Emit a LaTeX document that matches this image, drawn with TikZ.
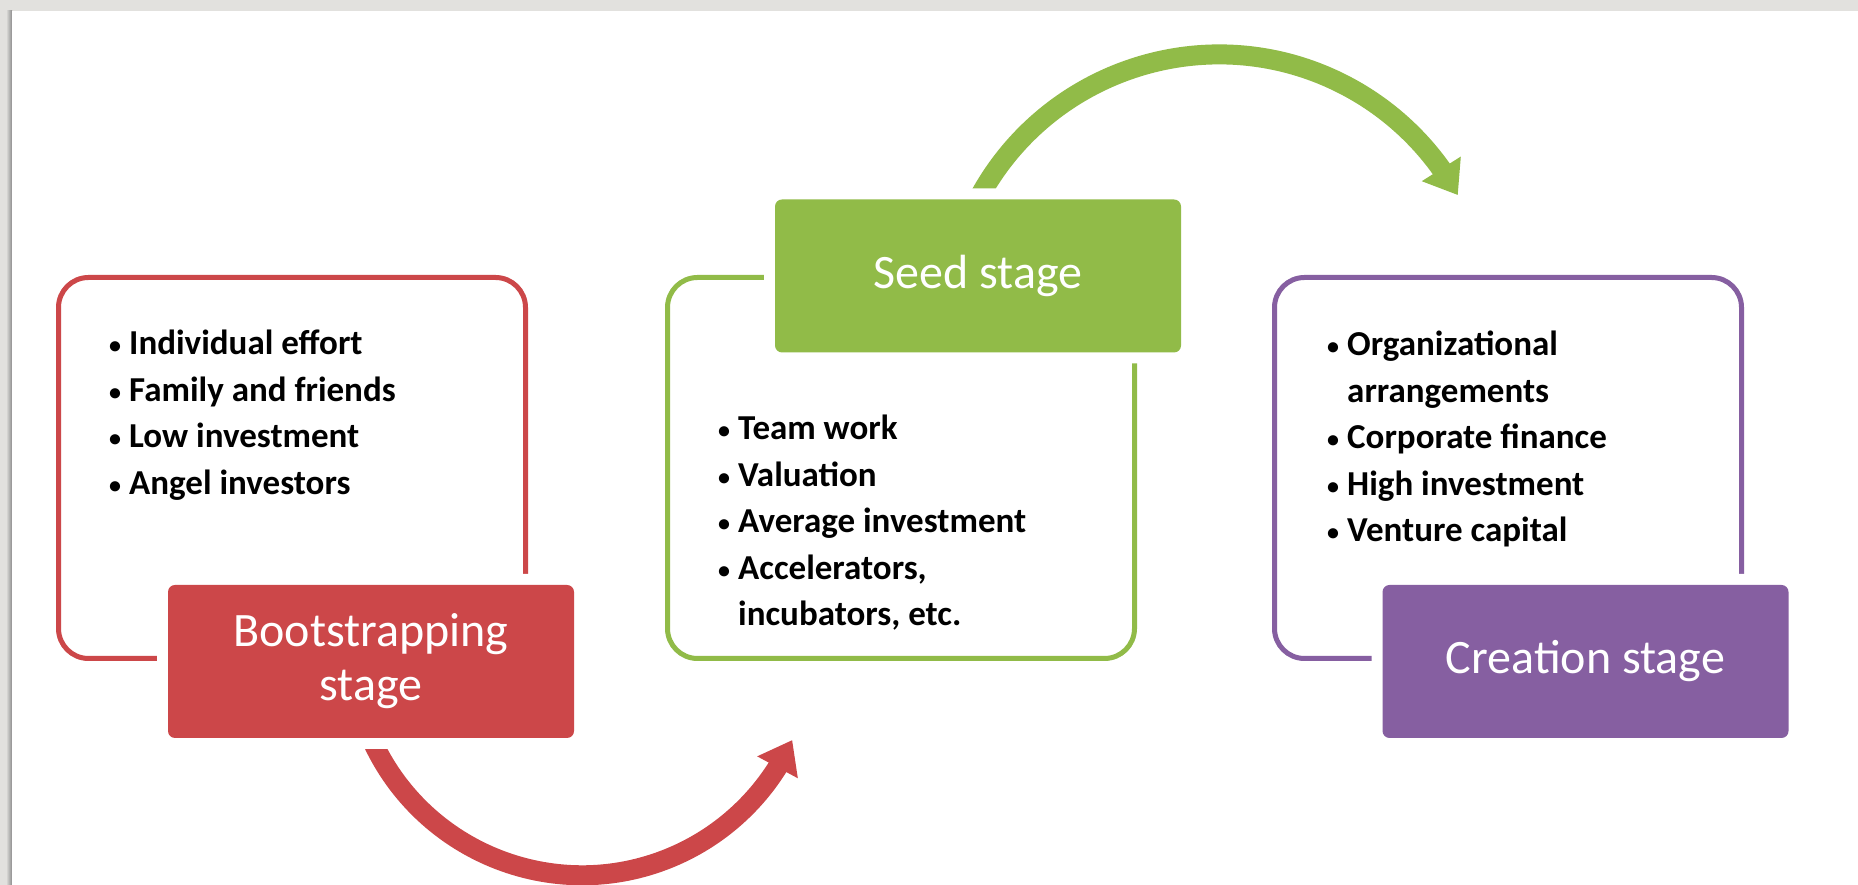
\documentclass[tikz,border=0pt]{standalone}
\usepackage{fontspec}
\setmainfont{Carlito}
\usetikzlibrary{arrows.meta,bending,backgrounds}

\definecolor{bootred}{RGB}{204,71,73}
\definecolor{seedgreen}{RGB}{145,187,72}
\definecolor{createpurple}{RGB}{134,95,161}
\definecolor{cardgray}{RGB}{226,225,222}

\newcommand{\bul}{\makebox[20pt][l]{\raisebox{1pt}{\fontsize{24}{24}\selectfont\textbullet}}}
\newcommand{\hang}{\hspace*{20pt}}

\tikzset{
  listframe/.style={draw=#1, line width=5pt, rounded corners=30pt, minimum width=467pt, minimum height=381pt, inner sep=0pt},
  stagebox/.style={fill=#1, rounded corners=7pt, minimum width=406pt, minimum height=153pt, inner sep=0pt,
    preaction={draw=white, line width=22pt}, text=white, align=center, font=\fontsize{48}{54}\selectfont},
  itemlist/.style={anchor=north west, inner sep=0pt, align=left, font=\bfseries\fontsize{35}{46.5}\selectfont},
  stagearc/.style={draw=#1, line width=20pt, -{Triangle[length=31pt,width=44pt]}}
}

\begin{document}
\begin{tikzpicture}[x=1pt,y=1pt]

% Card
\begin{scope}[on background layer]
\fill[cardgray] (0,0) rectangle (1858,885);
\shade[left color=cardgray, right color=black!45] (6,0) rectangle (12,874);
\fill[white] (12,0) rectangle (1858,874);
\end{scope}
\useasboundingbox (0,0) rectangle (1858,885);

% Bootstrapping stage
\node[listframe=bootred] (bootframe) at (292,417) {};
\node[itemlist] (bootlist) at (109,555) {\bul Individual effort\\ \bul Family and friends\\ \bul Low investment\\ \bul Angel investors};
\node[stagebox=bootred] (boot) at (371,223.5) {Bootstrapping\\ stage};

% Seed stage
\node[listframe=seedgreen] (seedframe) at (901,417) {};
\node[itemlist] (seedlist) at (718,470) {\bul Team work\\ \bul Valuation\\ \bul Average investment\\ \bul Accelerators,\\ \hang incubators, etc.};
\node[stagebox=seedgreen] (seed) at (978,609) {Seed stage};

% Creation stage
\node[listframe=createpurple] (createframe) at (1508,417) {};
\node[itemlist] (createlist) at (1327,554) {\bul Organizational\\ \hang arrangements\\ \bul Corporate finance\\ \bul High investment\\ \bul Venture capital};
\node[stagebox=createpurple] (create) at (1585.5,223.5) {Creation stage};

% Arrows between stages
\begin{scope}[on background layer]
\draw[stagearc=bootred] (boot.south) arc[start angle=204, end angle=335.5, radius=231];
\draw[stagearc=seedgreen] (seed.north) arc[start angle=152, end angle=29, radius=273];
\end{scope}

\end{tikzpicture}
\end{document}
